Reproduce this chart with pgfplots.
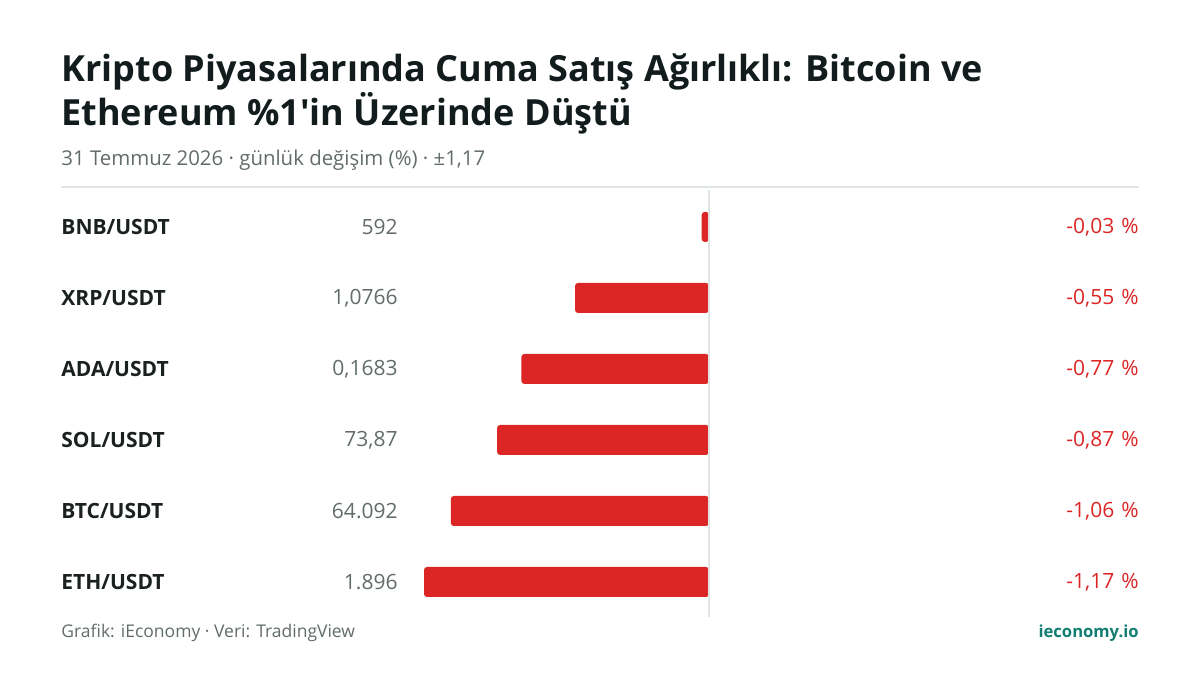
\documentclass[border=0pt]{standalone}
\usepackage{pgfplots}
\pgfplotsset{compat=1.18}
\usepackage{fontspec}
\setmainfont{Open Sans}
\definecolor{titlec}{HTML}{121C1C}
\definecolor{labc}{HTML}{1B2020}
\definecolor{grayc}{HTML}{636C6C}
\definecolor{redc}{HTML}{DC2626}
\definecolor{linec}{HTML}{DFE4E4}
\definecolor{tealc}{HTML}{127D72}
\begin{document}
\begin{tikzpicture}[x=0.5pt,y=0.5pt]
\fill[white] (0,0) rectangle (1200,675);
% title
\node[anchor=base west,inner sep=0,text=titlec,font=\bfseries\fontsize{18pt}{21pt}\selectfont] at (61,593) {Kripto Piyasalarında Cuma Satış Ağırlıklı: Bitcoin ve};
\node[anchor=base west,inner sep=0,text=titlec,font=\bfseries\fontsize{18pt}{21pt}\selectfont] at (61,549) {Ethereum \%1\textquotesingle in Üzerinde Düştü};
\node[anchor=base west,inner sep=0,text=grayc,font=\fontsize{10.2pt}{12pt}\selectfont] at (61,509) {31 Temmuz 2026 · günlük değişim (\%) · ±1,17};
\draw[linec,line width=0.6pt] (61,488) -- (1139,488);
% axis
\begin{axis}[at={(212pt,29pt)},anchor=south west,
  width=142.5pt,height=213.5pt,scale only axis,
  xmin=-1.17,xmax=0,ymin=-0.493,ymax=5.52,
  hide axis,clip=false]
\addplot[xbar,bar width=15pt,fill=redc,draw=none,rounded corners=1.5pt]
 coordinates {(-1.17,0) (-1.06,1) (-0.87,2) (-0.77,3) (-0.55,4) (-0.03,5)};
\end{axis}
\draw[linec,line width=1pt] (709,485) -- (709,58);
% row labels
\foreach \n/\p/\v [count=\i from 0] in {BNB/592/{-0,03},XRP/{1,0766}/{-0,55},ADA/{0,1683}/{-0,77},SOL/{73,87}/{-0,87},BTC/{64.092}/{-1,06},ETH/{1.896}/{-1,17}}{
  \pgfmathsetmacro{\yy}{448-71*\i}
  \node[anchor=west,inner sep=0,text=labc,font=\bfseries\fontsize{10.5pt}{12pt}\selectfont] at (61,\yy) {\n/USDT};
  \node[anchor=east,inner sep=0,text=grayc,font=\fontsize{10.5pt}{12pt}\selectfont] at (398,\yy) {\p};
  \node[anchor=east,inner sep=0,text=redc,font=\fontsize{10.5pt}{12pt}\selectfont] at (1139,\yy) {\v\hspace{3.5pt}\%};
}
% footer
\node[anchor=base west,inner sep=0,text=grayc,font=\fontsize{8.75pt}{10pt}\selectfont] at (61,38) {Grafik: iEconomy · Veri: TradingView};
\node[anchor=base east,inner sep=0,text=tealc,font=\bfseries\fontsize{8.3pt}{10pt}\selectfont] at (1139,38) {ieconomy.io};
\end{tikzpicture}
\end{document}
